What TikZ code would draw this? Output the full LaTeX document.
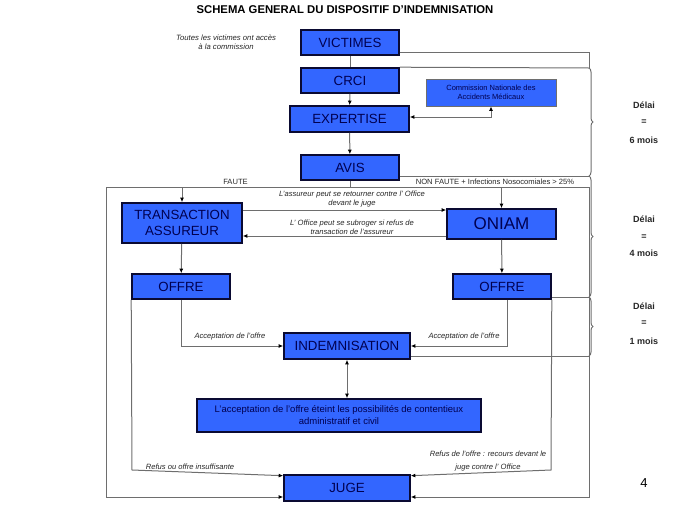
\documentclass[tikz,border=0pt]{standalone}
\usepackage{fontspec}
\setmainfont{Liberation Sans}
\usetikzlibrary{arrows.meta,decorations.pathreplacing,calc}
\definecolor{boxblue}{RGB}{51,102,255}
\definecolor{boxtext}{RGB}{0,0,80}
\definecolor{boxline}{RGB}{10,10,50}
\definecolor{linegray}{RGB}{110,110,110}
\begin{document}
\begin{tikzpicture}[x=1pt,y=-1pt,
 box/.style={draw=boxline,line width=1.6pt,fill=boxblue,text=boxtext,inner sep=0pt,
   font=\fontsize{13.3}{15.5}\selectfont,align=center},
 smallbox/.style={draw=linegray,line width=0.9pt,fill=boxblue,text=boxtext,inner sep=0pt,
   font=\fontsize{7.5}{9}\selectfont,align=center},
 conn/.style={draw=linegray,line width=1pt},
 arr/.style={-{Latex[length=4.5pt,width=4pt,color=black]}},
 arrs/.style={{Latex[length=4.5pt,width=4pt,color=black]}-{Latex[length=4.5pt,width=4pt,color=black]}},
 lbl/.style={font=\fontsize{7.6}{9}\selectfont\itshape,align=center,inner sep=0pt,text=black!85},
 plbl/.style={font=\fontsize{7.6}{9}\selectfont,align=center,inner sep=0pt,text=black!85},
 delai/.style={font=\fontsize{9}{10}\selectfont\bfseries,inner sep=0pt,text=black!85},
 brc/.style={draw=linegray,line width=1pt,decorate,decoration={brace,amplitude=4pt}}
]
\useasboundingbox (0,0) rectangle (689,517);

% title
\node[font=\fontsize{11.3}{13}\selectfont\bfseries,inner sep=0pt] (title) at (345,10) {SCHEMA GENERAL DU DISPOSITIF D'INDEMNISATION};
\node[lbl,font=\fontsize{7.7}{9}\selectfont\itshape] (toutes) at (226,42.5) {Toutes les victimes ont accès\\à la commission};

% boxes
\node[box,minimum width=98pt,minimum height=25pt] (vict) at (350,42.5) {VICTIMES};
\node[box,minimum width=98pt,minimum height=25pt] (crci) at (350,80.5) {CRCI};
\node[smallbox,minimum width=130pt,minimum height=27pt] (comm) at (491,92.5) {Commission Nationale des\\Accidents Médicaux};
\node[box,minimum width=119pt,minimum height=26pt] (exp) at (349.5,119) {EXPERTISE};
\node[box,minimum width=98pt,minimum height=25pt] (avis) at (350,167.5) {AVIS};
\node[box,minimum width=120pt,minimum height=40pt] (trans) at (182,223) {TRANSACTION\\ASSUREUR};
\node[box,minimum width=109pt,minimum height=30pt,font=\fontsize{17}{19}\selectfont] (oniam) at (501.5,224) {ONIAM};
\node[box,minimum width=98pt,minimum height=25pt] (offl) at (181,286.5) {OFFRE};
\node[box,minimum width=98pt,minimum height=25pt] (offr) at (502,286.5) {OFFRE};
\node[box,minimum width=126pt,minimum height=26pt] (indem) at (347,346) {INDEMNISATION};
\node[box,minimum width=284pt,minimum height=33pt,font=\fontsize{9.5}{12}\selectfont] (acc) at (339,415.5) {L'acceptation de l'offre éteint les possibilités de contentieux\\administratif et civil};
\node[box,minimum width=126pt,minimum height=26pt] (juge) at (347,488) {JUGE};

% coordinates
\coordinate (split) at (350,187.5);
\coordinate (tl) at (106,187.5);
\coordinate (tr) at (589,187.5);
\coordinate (bl) at (106,497);
\coordinate (br) at (589,497);
\coordinate (rl) at (132,470);
\coordinate (rr) at (551,470);
\coordinate (b0) at (589,52);
\coordinate (b1) at (589,68);
\coordinate (b2) at (589,176);
\coordinate (b3) at (589,297);
\coordinate (b4) at (589,356);

% main chain
\draw[conn] (vict) -- (crci);
\draw[conn,arr] (crci) -- (exp);
\draw[conn,arr] (exp) -- (avis);
\draw[conn,arrs] ([yshift=2pt]exp.east) -| (comm.south);

% outer frame
\draw[conn] (avis) -- (split);
\draw[conn,arr] (split) -- (tl) -- (bl) -- (juge.west |- bl);
\draw[conn,arr] (split) -- (tr) -- (br) -- (juge.east |- br);
\draw[conn,arr] (trans.north |- tl) -- (trans.north);
\draw[conn,arr] (oniam.north |- tr) -- (oniam.north);
\node[plbl] (faute) at (235.5,181.5) {FAUTE};
\node[plbl] (nonfaute) at (495,181.5) {NON FAUTE + Infections Nosocomiales > 25\%};

% transaction <-> oniam
\draw[conn,arr] (trans.east |- 0,210) -- (oniam.west |- 0,210);
\draw[conn,arr] (oniam.west |- 0,236) -- (trans.east |- 0,236);
\node[lbl] (l1) at (352,199.5) {L'assureur peut se retourner contre l' Office\\devant le juge};
\node[lbl] (l2) at (352,227.5) {L' Office peut se subroger si refus de\\transaction de l'assureur};

% offres
\draw[conn,arr] (trans) -- (offl);
\draw[conn,arr] (oniam) -- (offr);
\draw[conn,arr] (offl.south) |- (indem.west);
\draw[conn,arr] ([xshift=5pt]offr.south) |- (indem.east);
\node[lbl] (a1) at (230,337) {Acceptation de l'offre};
\node[lbl] (a2) at (464,337) {Acceptation de l'offre};
\draw[conn,arrs] (indem.south) -- (indem.south |- acc.north);

% refus
\draw[conn,arr] (offl.south west) -- (rl) -- ([yshift=-1.5pt]juge.north west);
\draw[conn,arr] (offr.south east) -- (rr) -- ([yshift=-1.5pt]juge.north east);
\node[lbl] (r1) at (190,466.5) {Refus ou offre insuffisante};
\node[lbl,font=\fontsize{7.6}{13}\selectfont\itshape] (r2) at (488,461.5) {Refus de l'offre : recours devant le\\juge contre l' Office};

% lines to braces
\draw[conn] ([yshift=-9.5pt]vict.east) -- (b0) -- (b1);
\draw[conn] (crci.north east) -- (b1);
\draw[conn] ([yshift=-8.5pt]avis.east) -- (b2);
\draw[conn] ([yshift=-10.5pt]offr.east) -- (b3);
\draw[conn] ([yshift=-10pt]indem.east) -- (b4);

% braces
\draw[brc] (b1) -- (b2);
\draw[brc] (b2) -- (b3);
\draw[brc] (b3) -- (b4);

\node[delai] (d1a) at (644,105) {Délai};
\node[delai] (d1b) at (644,122) {=};
\node[delai] (d1c) at (644,140) {6 mois};
\node[delai] (d2a) at (644,219) {Délai};
\node[delai] (d2b) at (644,237) {=};
\node[delai] (d2c) at (644,253) {4 mois};
\node[delai] (d3a) at (644,306) {Délai};
\node[delai] (d3b) at (644,323) {=};
\node[delai] (d3c) at (644,341) {1 mois};
\node[font=\fontsize{13}{15}\selectfont,inner sep=0pt] (page) at (644,483) {4};
\end{tikzpicture}
\end{document}
